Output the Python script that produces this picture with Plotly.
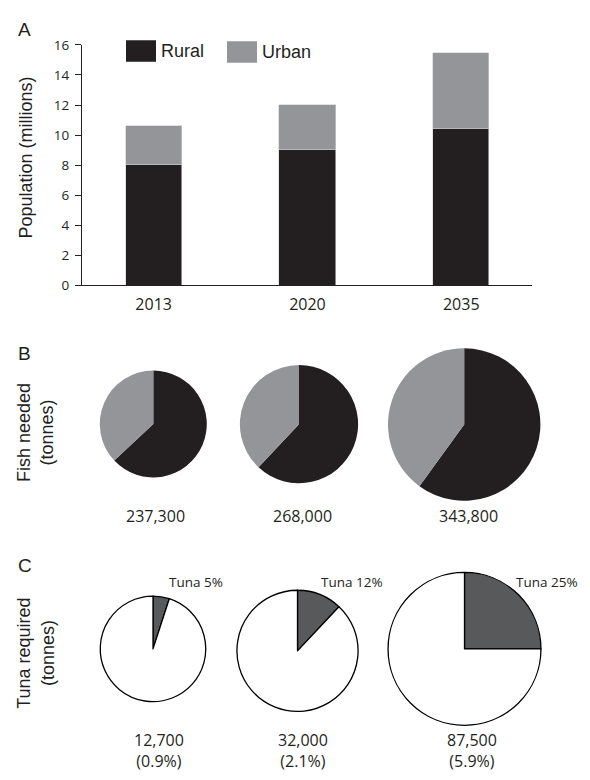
import plotly.graph_objects as go

# ---------------- data ----------------
years = ["2013", "2020", "2035"]
rural_millions = [8.0, 9.0, 10.4]
urban_millions = [2.6, 3.0, 5.1]
y_ticks = [0, 2, 4, 6, 8, 10, 12, 14, 16]

fish_needed_t = [237300, 268000, 343800]
fish_rural_share = [63, 62, 60]
fish_urban_share = [37, 38, 40]

tuna_required_t = [12700, 32000, 87500]
tuna_share = [5, 12, 25]
tuna_pct_of_fish = [0.9, 2.1, 5.9]

# ---------------- styling / layout constants ----------------
W, H = 590, 780
ARIAL = "Liberation Sans, Arial, sans-serif"
CAL = "Open Sans, sans-serif"
INK = "#231f20"
RURAL_C = "#231f20"
URBAN_C = "#939598"
TUNA_C = "#58595b"


def px(x):
    return x / W


def py(y):
    return 1 - y / H


fig = go.Figure()

# Panel A: stacked bars
fig.add_trace(go.Bar(x=years, y=rural_millions, name="Rural", width=0.365,
                     marker=dict(color=RURAL_C, line=dict(color="#cfcfcf", width=0.6)),
                     showlegend=False))
fig.add_trace(go.Bar(x=years, y=urban_millions, name="Urban", width=0.365,
                     marker=dict(color=URBAN_C, line=dict(color="#cfcfcf", width=0.6)),
                     showlegend=False))

# Panel B pies
b_centers = [(153.3, 424.8), (299.0, 425.0), (464.2, 425.3)]
b_diam = [109.5, 121.0, 156.0]
for (cx, cy), d, r, u in zip(b_centers, b_diam, fish_rural_share, fish_urban_share):
    fig.add_trace(go.Pie(values=[r, u], labels=["Rural", "Urban"], sort=False,
                         direction="clockwise", rotation=0, textinfo="none",
                         hoverinfo="label+percent",
                         marker=dict(colors=[RURAL_C, URBAN_C], line=dict(width=0)),
                         domain=dict(x=[px(cx - d / 2), px(cx + d / 2)],
                                     y=[py(cy + d / 2), py(cy - d / 2)]),
                         showlegend=False))

# Panel C pies
c_centers = [(153.0, 655.0), (297.5, 657.0), (464.5, 655.0)]
c_diam = [108.0, 124.0, 156.5]
for (cx, cy), d, t in zip(c_centers, c_diam, tuna_share):
    fig.add_trace(go.Pie(values=[t, 100 - t], labels=["Tuna", "Other"], sort=False,
                         direction="clockwise", rotation=0, textinfo="none",
                         hoverinfo="label+percent",
                         marker=dict(colors=[TUNA_C, "#ffffff"], line=dict(color="#000000", width=1.3)),
                         domain=dict(x=[px(cx - d / 2), px(cx + d / 2)],
                                     y=[py(cy + d / 2), py(cy - d / 2)]),
                         showlegend=False))

annotations = []


def ann(text, x, y, size, family, xanchor="center", yanchor="middle", angle=0):
    annotations.append(dict(text=text, x=px(x), y=py(y), xref="paper", yref="paper",
                            xanchor=xanchor, yanchor=yanchor, showarrow=False,
                            textangle=angle, borderpad=0, borderwidth=0,
                            font=dict(size=size, family=family, color=INK)))


# panel letters
ann("A", 24.5, 20.5, 19, ARIAL)
ann("B", 24.0, 352.5, 19, ARIAL)
ann("C", 24.5, 570.0, 19, ARIAL)

# axis titles
ann("Population (millions)", 26, 152, 18, ARIAL, angle=-90)
ann("Fish needed<br>(tonnes)", 36, 434, 18, ARIAL, angle=-90)
ann("Tuna required<br>(tonnes)", 36, 660, 18, ARIAL, angle=-90)

# legend text
ann("Rural", 161, 43, 18, ARIAL, xanchor="left")
ann("Urban", 262, 44, 18, ARIAL, xanchor="left")

# B labels
b_label_x = [155, 302, 468]
for x, v in zip(b_label_x, fish_needed_t):
    ann(f"{v:,}", x, 518.5, 16, CAL)

# C labels (two lines each)
c_label_x = [158.5, 303, 471.5]
for x, v, p in zip(c_label_x, tuna_required_t, tuna_pct_of_fish):
    ann(f"{v:,}<br>({p}%)", x, 759, 16, CAL)

tuna_label_x = [196, 352, 547]
for x, t in zip(tuna_label_x, tuna_share):
    ann(f"Tuna {t}%", x, 587, 13.5, CAL)

shapes = [
    dict(type="rect", xref="paper", yref="paper", x0=px(126), x1=px(156), y0=py(54), y1=py(32),
         fillcolor=RURAL_C, line=dict(width=0)),
    dict(type="rect", xref="paper", yref="paper", x0=px(227), x1=px(257), y0=py(55), y1=py(33),
         fillcolor=URBAN_C, line=dict(width=0)),
]

fig.update_layout(
    width=W, height=H,
    margin=dict(l=0, r=0, t=0, b=0),
    paper_bgcolor="white", plot_bgcolor="white",
    barmode="stack", bargap=0,
    showlegend=False,
    annotations=annotations,
    shapes=shapes,
    xaxis=dict(domain=[px(82), px(532)], range=[-0.466, 2.46], type="category",
               showline=True, linecolor=INK, linewidth=1, ticks="", showgrid=False,
               zeroline=False, tickfont=dict(size=16, family=CAL, color=INK),
               ticklabelstandoff=4, fixedrange=True),
    yaxis=dict(domain=[py(283), py(36.7)], range=[0, 16], tickvals=y_ticks,
               showline=True, linecolor=INK, linewidth=1, ticks="outside", ticklen=6,
               tickcolor=INK, tickwidth=1, showgrid=False, zeroline=False,
               tickfont=dict(size=13.5, family=CAL, color=INK), ticklabelstandoff=3,
               fixedrange=True),
)

fig.write_html("out.html",
               config={"displayModeBar": False},
               post_script="document.body.style.margin='0px';document.body.style.overflow='hidden';")
